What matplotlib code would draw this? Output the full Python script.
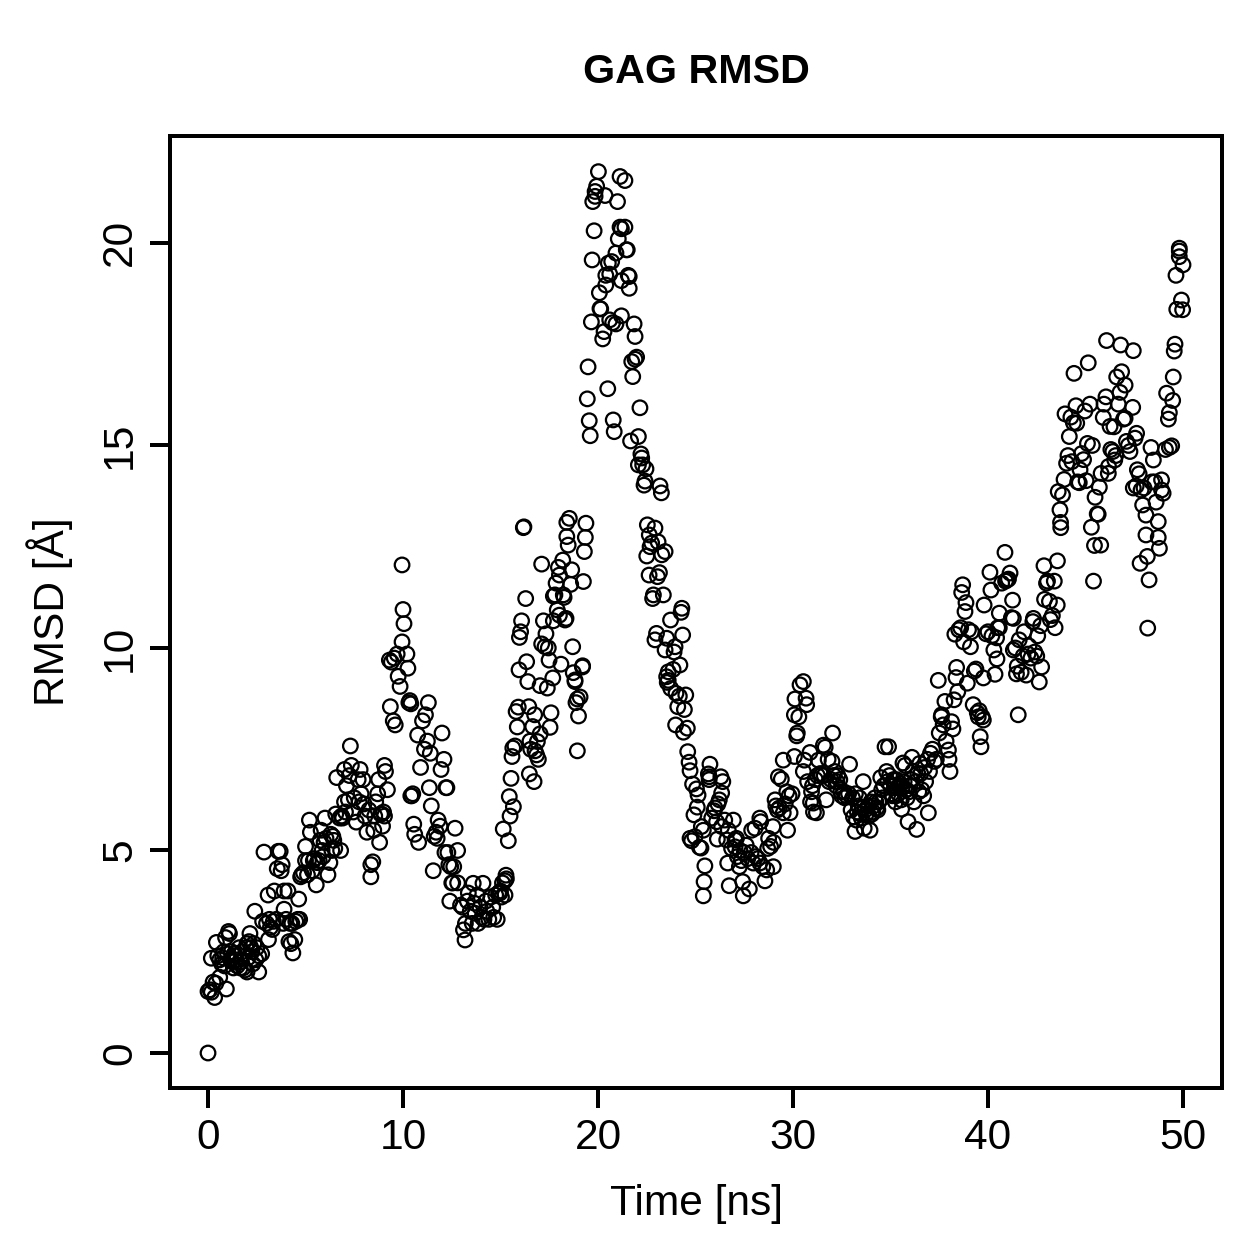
import numpy as np
import matplotlib
matplotlib.use("Agg")
import matplotlib.pyplot as plt

# (time in ns, RMSD in angstrom) samples, grouped by stretch of the trajectory
start_rise = [
 (0.0,0.0),(0.0,1.52),(0.1,1.56),(0.17,1.5),(0.26,1.75),(0.34,1.37),(0.4,1.72),(0.6,1.87),(0.94,1.58),(0.17,2.34),
 (0.43,2.73),(0.5,2.4),(0.6,2.3),(0.7,2.2),(0.8,2.5),(0.9,2.85),(1.05,3.0),(1.1,2.95),(1.0,2.45),(1.15,2.3),
 (1.2,2.5),(1.3,2.1),(1.4,2.4),(1.5,2.15),(1.6,2.6),(1.7,2.25),(1.8,2.1),(1.9,2.05),(2.0,2.0),(2.0,2.7),
 (2.1,2.75),(2.15,2.95),(2.2,2.6),(2.3,2.2),(2.35,2.7),(2.4,3.5),(2.5,2.6),(2.6,2.0),(2.6,2.4),(2.75,2.45),
 (2.8,3.25),(2.87,4.96),(3.0,3.2),(3.08,3.9),(3.1,2.8),(3.2,3.1),(3.3,3.05),(3.4,4.0),(3.5,3.3),(3.55,4.55),
 (3.6,4.98),(3.7,4.98),(3.75,4.5),(3.8,4.65),(3.9,4.0),(3.9,3.55),(4.0,3.3),(4.1,4.0),(4.15,2.75),(4.25,2.7),
 (4.3,3.2),(4.35,2.47),(4.45,2.8),(4.5,3.25),(4.6,3.3),(4.65,3.8),(4.8,4.4),(4.9,4.45),(5.0,5.1),(5.0,4.75),
 (5.1,4.4),(5.2,5.75),(5.25,5.45),(5.35,4.5),(5.4,4.75),(5.55,4.15),(5.6,4.7),(5.7,4.75),(5.75,5.25),(5.8,5.5),
 (5.9,4.85),(6.0,5.8),(6.05,5.3),(6.15,4.4),(6.25,4.7),(6.3,5.4),(6.4,5.35),(6.5,5.05),(6.55,5.9),(6.6,6.8),
 (6.75,5.8),(6.8,5.0),(6.9,5.8),(7.0,7.0),(7.0,6.2),(7.1,6.6),(7.2,6.25),(7.3,7.58),(7.35,7.1),(7.45,5.95),
 (7.6,5.7),(7.7,6.75),(7.8,7.0),(7.85,6.4),(7.95,6.75),(8.0,6.15),(8.05,5.85),(8.15,5.45),(8.35,4.35),(8.35,4.65),
 (8.45,4.72),(8.5,5.5),(8.6,6.2),(8.7,6.4),(8.75,6.75),(8.8,5.2),(8.85,5.9),(8.95,5.6),(9.05,7.1),(9.05,5.85),
 (9.1,6.95),(9.2,6.5),(9.3,9.7),(9.35,8.55),(9.4,9.65),(9.5,8.2),(9.55,9.75),(9.6,8.1),(9.7,9.85),(9.75,9.3),
 (9.85,9.05),(9.95,12.05),(9.95,10.15),(10.0,10.95),(10.05,10.6),(10.2,9.85),(10.25,9.5),(10.35,8.7),(10.4,8.62),(10.4,6.35),
 (10.5,6.4),(10.55,5.65),(10.6,5.4),(10.75,7.85),(10.8,5.2),(10.9,7.05),(11.0,8.2),(11.1,7.5),(11.15,8.35),(11.3,8.65),
 (11.25,7.7),(11.4,7.4),(11.35,6.55),(11.45,6.1),(11.55,4.5),(11.6,5.35),(11.7,5.45),(11.8,5.75),(11.9,5.6),(12.0,7.9),
 (11.95,7.0),(12.1,7.25),(12.2,6.55),(12.25,6.55),(12.3,4.95),(12.35,4.65),(12.4,3.75),(12.5,4.2),(12.6,4.6),(12.67,5.55),
 (12.8,5.0),(12.8,4.2),
]
early_cluster = [
 (0.75,2.35),(0.85,2.15),(1.25,2.25),(1.35,2.45),(1.45,2.3),(1.65,2.1),(1.75,2.5),(1.95,2.6),(2.05,2.35),(2.25,2.5),
 (2.45,2.3),(3.15,3.3),(3.35,3.25),(3.85,3.2),(4.2,3.2),(4.7,3.3),(4.75,4.35),(5.15,4.75),(5.45,4.8),(5.85,5.0),
 (5.95,5.2),(6.35,5.0),(6.45,5.25),(6.85,5.85),(7.05,5.95),(7.25,6.85),(7.5,6.3),(7.75,6.2),(8.25,6.0),(8.55,5.85),
 (8.9,5.9),(9.0,5.95),(10.45,6.35),(10.3,8.65),(11.75,5.3),(12.15,4.95),(12.45,4.6),(12.55,4.2),
]
first_valley = [
 (12.95,3.65),(13.05,3.6),(13.1,3.04),(13.18,2.79),(13.2,3.2),(13.3,3.75),(13.35,3.95),(13.45,3.5),(13.55,3.2),(13.6,4.19),
 (13.65,3.7),(13.7,3.45),(13.8,3.9),(13.85,3.2),(13.95,3.6),(14.05,3.35),(14.1,4.19),(14.15,3.3),(14.25,3.75),(14.3,3.5),
 (14.4,3.3),(14.5,3.85),(14.6,3.6),(14.65,3.35),(14.75,3.9),(14.83,3.3),(14.9,3.95),(14.97,3.95),(15.0,4.0),(15.05,3.85),
 (15.1,4.2),(15.23,3.9),(15.23,4.25),(15.28,4.39),(15.3,4.3),
]
second_peak = [
 (15.14,5.53),(15.4,5.24),(15.45,6.33),(15.49,5.85),(15.54,6.78),(15.59,7.32),(15.63,7.53),(15.66,6.08),(15.74,7.58),(15.8,8.43),
 (15.86,8.05),(15.91,8.54),(15.95,9.46),(15.97,10.26),(16.03,10.4),(16.08,10.67),(16.17,12.97),(16.2,12.99),(16.29,11.22),(16.34,9.66),
 (16.4,9.17),(16.45,8.55),(16.48,6.89),(16.51,7.7),(16.55,7.5),(16.65,8.06),(16.72,6.7),(16.75,8.35),(16.77,7.46),(16.85,7.36),
 (16.89,7.69),(16.94,7.25),(17.03,7.88),(17.03,9.07),(17.11,10.1),(17.11,12.07),(17.2,10.67),(17.28,10.03),(17.33,10.35),(17.4,9.01),
 (17.45,10.0),(17.49,9.7),(17.54,8.04),(17.59,8.4),(17.68,9.26),(17.71,10.67),(17.71,11.28),(17.79,11.31),(17.85,11.6),(17.91,10.94),
 (17.97,11.99),(18.02,10.81),(18.02,11.8),(18.1,9.6),(18.19,12.17),(18.22,11.31),(18.26,11.25),(18.31,10.69),(18.36,10.73),(18.4,12.75),
 (18.4,13.1),(18.47,12.54),(18.53,13.2),(18.6,11.57),(18.65,11.93),(18.7,10.03),(18.73,9.39),(18.82,9.21),(18.82,9.17),(18.87,8.65),
 (18.94,7.46),(18.94,8.74),(19.0,8.32),(19.08,8.79),(19.2,9.53),(19.21,9.56),(19.25,11.64),(19.3,12.38),(19.35,12.73),(19.38,13.08),
]
main_peak = [
 (19.45,16.15),(19.49,16.94),(19.55,15.61),(19.6,15.24),(19.66,18.05),(19.7,19.58),(19.73,21.02),(19.8,20.3),(19.85,21.27),(19.85,21.15),
 (19.93,21.4),(20.02,21.76),(20.07,18.77),(20.1,18.38),(20.14,18.37),(20.24,17.63),(20.31,17.81),(20.36,21.17),(20.4,19.2),(20.4,18.96),
 (20.5,16.4),(20.53,19.5),(20.6,19.23),(20.6,18.1),(20.7,19.54),(20.75,18.03),(20.78,15.63),(20.83,15.34),(20.92,19.75),(20.92,18.0),
 (21.0,21.02),(21.04,20.1),(21.13,21.64),(21.13,20.39),(21.2,20.35),(21.2,19.07),(21.2,18.2),(21.38,21.54),(21.38,20.39),(21.45,19.83),
 (21.5,19.83),(21.55,19.2),(21.6,19.17),(21.6,18.88),(21.67,15.11),(21.73,17.07),(21.78,16.7),(21.85,18.0),(21.9,17.69),(21.9,17.13),
 (21.98,17.18),(22.07,15.22),(22.07,14.52),(22.15,15.93),(22.2,14.79),(22.24,14.69),(22.29,14.52),(22.36,14.02),(22.41,14.12),(22.46,14.42),
 (22.5,12.27),(22.53,13.04),(22.62,11.8),(22.63,12.79),(22.67,12.5),(22.75,12.59),(22.8,11.22),(22.84,11.31),(22.92,12.96),(23.05,11.76),
 (23.08,12.62),(23.15,11.86),(23.18,14.0),(23.25,13.83),(23.27,12.3),(23.35,11.31),(23.44,12.38),
]
descent = [
 (22.92,10.2),(23.0,10.36),(23.44,9.95),(23.52,10.24),(23.52,9.29),(23.55,9.15),(23.6,9.41),(23.6,9.2),(23.72,10.69),(23.73,9.0),
 (23.85,9.47),(23.9,9.9),(23.95,10.03),(23.98,8.1),(24.0,8.88),(24.09,8.55),(24.17,8.81),(24.2,9.58),(24.26,10.88),(24.3,10.98),
 (24.34,10.32),(24.38,7.92),(24.43,8.48),(24.5,8.84),(24.58,8.02),(24.6,7.44),(24.67,7.18),(24.72,6.97),(24.72,5.3),(24.8,5.24),
 (24.85,6.64),(24.92,5.88),(24.97,5.34),(25.05,6.52),(25.09,6.07),(25.13,6.37),(25.2,5.08),(25.28,5.06),(25.3,5.59),(25.4,5.5),
 (25.4,3.88),(25.44,4.23),(25.48,4.62),(25.66,6.89),(25.7,6.75),(25.74,7.13),(25.7,6.82),(25.83,5.8),(25.95,5.98),(26.0,6.05),
 (26.08,5.71),(26.12,5.28),(26.15,6.15),(26.22,6.25),(26.3,6.82),(26.34,6.42),(26.34,5.59),(26.4,6.7),(26.5,5.75),(26.6,5.26),
 (26.65,4.69),(26.68,5.5),(26.73,4.13),(26.85,5.05),(26.94,5.75),(27.03,5.26),(27.03,5.09),(27.1,5.3),(27.15,4.85),(27.25,4.6),
 (27.28,5.0),(27.35,4.75),(27.42,4.23),(27.45,3.88),(27.5,4.95),(27.6,5.13),(27.68,4.8),(27.76,4.05),(27.85,4.95),(27.88,5.5),
 (27.96,4.69),(28.05,5.55),(28.1,4.85),(28.2,4.8),(28.3,5.8),(28.34,5.71),(28.3,4.69),(28.45,4.6),(28.56,4.25),(28.65,4.52),
 (28.7,5.05),(28.75,5.3),(28.85,5.1),(28.97,5.59),(28.99,4.6),(29.0,5.2),
]
second_hump = [
 (29.08,6.25),(29.12,6.1),(29.2,6.0),(29.25,6.82),(29.3,6.05),(29.4,6.76),(29.5,7.23),(29.5,5.93),(29.6,6.15),(29.68,6.45),
 (29.72,5.5),(29.8,6.35),(29.85,5.93),(29.95,6.4),(30.07,7.32),(30.07,8.35),(30.1,8.74),(30.19,7.83),(30.22,7.9),(30.3,8.3),
 (30.36,9.09),(30.53,9.17),(30.53,6.95),(30.58,7.23),(30.67,8.76),(30.7,8.6),(30.75,6.7),(30.87,7.42),(30.95,6.45),(31.0,6.6),
 (31.04,6.17),(31.2,5.93),(31.25,6.85),(31.3,7.23),(31.4,6.9),(31.47,6.86),(31.56,7.6),(31.65,7.55),(31.7,6.25),(31.8,7.25),
 (31.85,6.7),(31.95,6.75),(32.0,7.2),(32.03,7.9),(32.1,6.85),(32.2,6.6),(32.3,6.85),(32.4,6.75),(32.5,6.35),(32.6,6.45),
 (32.75,6.35),(32.9,7.13),(32.98,6.0),(33.1,5.83),(33.18,5.47),(33.2,6.4),(33.3,5.95),(33.4,6.3),(33.5,5.8),(33.6,6.7),
 (33.65,5.55),(33.75,5.9),(33.85,6.1),(33.95,5.5),(34.0,6.2),(34.1,5.95),(34.2,6.3),(34.3,6.05),(34.4,6.2),(34.5,6.8),
 (34.6,6.3),(34.72,7.56),(34.8,6.95),(34.9,7.56),(34.95,6.85),(35.05,6.4),(35.15,6.75),(35.25,6.2),(35.35,6.55),(35.45,6.6),
 (35.55,6.25),(35.57,6.02),(35.64,7.16),(35.7,6.7),(35.8,6.5),(35.9,5.71),(36.0,6.6),(36.1,7.3),(36.2,6.2),(36.34,5.52),
 (36.4,6.9),(36.5,7.15),(36.6,6.5),(36.7,6.35),(36.8,6.7),(36.94,5.93),(37.0,6.95),(37.05,7.4),(37.15,7.5),(37.25,7.2),
 (37.35,7.25),(37.45,9.2),(37.5,7.9),(37.6,8.3),(37.62,8.35),(37.7,8.1),(37.79,8.68),(37.85,7.7),(37.97,7.48),(38.0,7.25),
 (38.05,6.95),(38.13,8.18),(38.2,8.0),
]
middle_cluster = [
 (30.9,6.2),(31.05,5.95),(31.15,6.75),(31.6,6.85),(32.15,6.95),(32.25,6.7),(32.45,6.45),(32.65,6.3),(32.85,6.4),(33.05,6.3),
 (33.25,5.75),(33.35,6.1),(33.45,5.9),(33.55,6.05),(33.7,6.0),(33.9,5.85),(34.05,5.9),(34.15,6.1),(34.25,6.2),(34.35,6.0),
 (34.55,6.5),(34.65,6.6),(34.85,6.7),(35.0,6.6),(35.1,6.35),(35.2,6.6),(35.3,6.75),(35.4,6.4),(35.5,6.65),(35.6,6.55),
 (35.75,7.1),(35.85,6.3),(35.95,6.45),(36.05,6.75),(36.15,6.95),(36.3,6.7),(36.45,6.45),(36.55,6.9),(36.75,7.05),(36.9,7.25),
]
final_climb = [
 (38.26,8.72),(38.3,10.34),(38.36,9.27),(38.39,9.52),(38.45,8.92),(38.5,10.45),(38.6,10.5),(38.65,11.37),(38.7,11.56),(38.75,10.15),
 (38.82,10.9),(38.87,11.12),(38.94,9.13),(39.0,10.45),(39.1,10.03),(39.15,10.4),(39.24,8.6),(39.3,9.43),(39.38,9.48),(39.45,8.4),
 (39.5,8.3),(39.55,8.45),(39.6,7.81),(39.64,7.56),(39.7,8.3),(39.76,8.22),(39.76,9.26),(39.8,11.06),(39.9,10.35),(40.0,10.4),
 (40.1,11.87),(40.15,11.43),(40.2,10.3),(40.3,9.95),(40.36,9.35),(40.44,10.25),(40.46,9.73),(40.5,10.5),(40.58,10.86),(40.58,10.5),
 (40.7,11.6),(40.87,12.36),(40.9,11.65),(40.97,11.68),(41.05,11.7),(41.13,11.85),(41.2,10.75),(41.26,11.18),(41.3,10.73),(41.3,9.95),
 (41.4,10.0),(41.46,9.36),(41.5,9.55),(41.55,8.35),(41.6,10.2),(41.7,9.4),(41.8,9.8),(41.85,10.4),(41.96,9.33),(42.05,9.85),
 (42.1,10.05),(42.2,9.75),(42.3,10.65),(42.33,10.73),(42.4,9.9),(42.5,9.8),(42.55,10.3),(42.63,9.16),(42.7,10.55),(42.75,9.53),
 (42.87,12.03),(42.9,11.2),(43.0,11.6),(43.05,11.65),(43.15,11.15),(43.2,10.7),(43.3,10.8),(43.4,11.65),(43.44,10.5),(43.55,11.06),
 (43.56,12.15),(43.6,13.86),(43.69,13.41),(43.73,12.97),(43.72,13.1),(43.82,13.78),(43.9,14.16),(43.95,15.78),(44.03,14.56),(44.1,14.75),
 (44.17,15.22),(44.25,15.7),(44.3,14.6),(44.38,15.56),(44.41,16.78),(44.51,15.98),(44.55,15.55),(44.6,14.1),(44.68,14.08),(44.72,14.4),
 (44.8,14.8),(44.9,14.65),(44.97,15.85),(45.03,14.13),(45.1,15.05),(45.14,17.04),(45.23,16.02),(45.3,12.98),(45.35,15.0),(45.41,11.65),
 (45.46,12.53),(45.49,13.72),(45.6,13.31),(45.65,13.3),(45.71,13.97),(45.78,12.54),(45.8,14.31),(45.91,15.69),(45.95,16.02),(46.05,16.2),
 (46.08,17.59),(46.17,14.31),(46.18,14.48),(46.26,15.47),(46.3,14.9),(46.4,14.85),(46.46,15.46),(46.5,14.64),(46.55,14.75),(46.6,16.69),
 (46.68,16.02),(46.77,16.31),(46.8,17.48),(46.85,16.82),(46.95,15.65),(47.03,16.49),(47.03,15.67),(47.1,15.1),(47.2,15.0),(47.28,14.85),
 (47.42,15.94),(47.45,17.34),(47.54,15.18),(47.62,15.3),(47.66,14.4),(47.45,13.95),(47.6,14.0),(47.75,14.3),(47.8,12.09),(47.85,13.9),
 (47.93,13.53),(48.0,13.95),(48.1,13.28),(48.1,12.79),(48.17,12.26),(48.19,10.49),(48.26,11.68),(48.36,14.95),(48.4,14.1),(48.48,14.64),
 (48.55,14.1),(48.62,13.6),(48.73,13.12),(48.73,12.73),(48.79,12.46),(48.9,14.15),(48.9,13.9),(48.98,13.82),(49.1,14.9),(49.16,16.29),
 (49.25,15.65),(49.3,15.81),(49.3,14.95),(49.42,14.99),(49.47,16.11),(49.5,16.69),(49.55,17.33),(49.59,17.5),(49.64,19.2),(49.68,18.36),
 (49.81,19.87),(49.81,19.8),(49.81,19.66),(49.92,18.59),(49.98,18.35),(50.0,19.46),
]

x_ticks = [0, 10, 20, 30, 40, 50]
y_ticks = [0, 5, 10, 15, 20]
title_text = "GAG RMSD"
x_title = "Time [ns]"
y_title = "RMSD [Å]"

samples = np.array(start_rise + early_cluster + first_valley + second_peak + main_peak
                   + descent + second_hump + middle_cluster + final_climb)

plt.rcParams["font.family"] = ["Liberation Sans", "DejaVu Sans"]
W = 1259
TEXT_SIZE = 17
fig = plt.figure(figsize=(W / 180, W / 180), dpi=180)
ax = fig.add_axes([170 / W, 1 - 1088 / W, (1222 - 170) / W, (1088 - 136) / W])

ax.scatter(samples[:, 0], samples[:, 1], s=34, facecolors="none",
           edgecolors="black", linewidths=0.9, clip_on=False)

ax.set_xlim(-1.95, 52.0)
ax.set_ylim(-0.864, 22.64)
ax.set_xticks(x_ticks)
ax.set_yticks(y_ticks)
ax.tick_params(axis="both", length=8, width=1.6, labelsize=TEXT_SIZE, pad=4)
for label in ax.get_yticklabels():
    label.set_rotation(90)
    label.set_verticalalignment("center")
for spine in ax.spines.values():
    spine.set_linewidth(1.6)

fig.text(696 / W, 1 - 72 / W, title_text, ha="center", va="center",
         fontsize=16.5, fontweight="bold")
fig.text(696 / W, 1 - 1204 / W, x_title, ha="center", va="center", fontsize=TEXT_SIZE)
fig.text(50 / W, 1 - 612 / W, y_title, ha="center", va="center",
         rotation=90, fontsize=TEXT_SIZE)

fig.savefig("out.png", dpi=180)
